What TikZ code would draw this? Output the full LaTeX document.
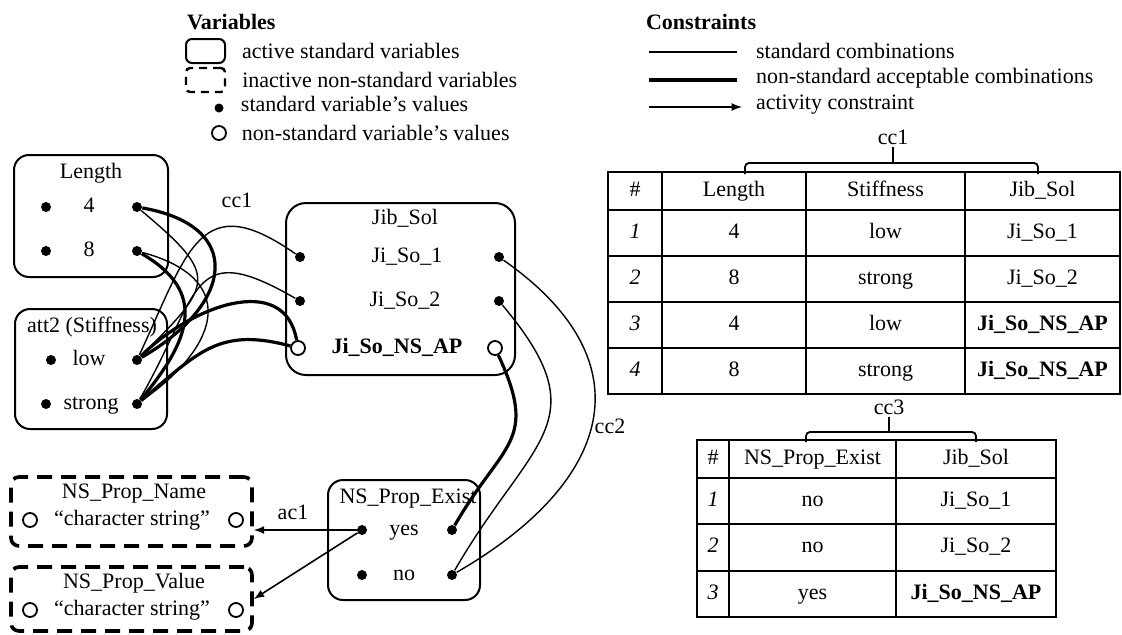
\documentclass[tikz,border=0pt]{standalone}
\usepackage{fontspec}
\setmainfont{Liberation Serif}
\usepackage{tikz}
\usetikzlibrary{shapes,arrows,positioning}

\begin{document}
\begin{tikzpicture}[
    x=0.5pt, y=0.5pt,
    font=\fontsize{11}{13}\selectfont,
    node distance=4.5pt,
    varbox/.style={rectangle, draw, line width=1pt, rounded corners=7.5pt, inner sep=0pt},
    nsbox/.style={rectangle, draw, line width=1.8pt, dash pattern=on 7.5pt off 4.5pt, rounded corners=4pt, inner sep=0pt},
    sval/.style={circle, fill, inner sep=0pt, minimum size=5pt},
    nsval/.style={circle, draw, fill=white, line width=0.9pt, inner sep=0pt, minimum size=7pt},
    lbl/.style={text height=7.5pt, text depth=2.5pt},
    stdlink/.style={line width=0.7pt},
    nslink/.style={line width=1.6pt},
    actlink/.style={line width=0.8pt, -latex},
    tabline/.style={line width=0.9pt},
    legtitle/.style={font=\fontsize{11}{13}\selectfont\bfseries}
]
    \useasboundingbox (0,0) rectangle (1122,634);

    % legend: variables
    \node[legtitle, anchor=west] (varlg) at (180,612) {Variables};
    \node[varbox, rounded corners=3pt, minimum width=19.5pt, minimum height=12pt] (actlg) at (205.5,583) {};
    \node[right=4.5pt of actlg] (actlgT) {active standard variables};
    \node[nsbox, line width=1.2pt, dash pattern=on 4pt off 3pt, rounded corners=2pt, minimum width=19.5pt, minimum height=12pt] (inalg) at (205.5,554) {};
    \node[right=4.5pt of inalg] (inalgT) {inactive non-standard variables};
    \node[sval, minimum size=4.5pt] (svlg) at (219,526) {};
    \node[right=5pt of svlg, yshift=2pt] (svlgT) {standard variable's values};
    \node[nsval] (nvlg) at (219,501) {};
    \node[right=4pt of nvlg] (nvlgT) {non-standard variable's values};

    % legend: constraints
    \node[legtitle, anchor=west] (conlg) at (639,612) {Constraints};
    \coordinate (stdA) at (649,582);
    \coordinate (stdB) at (737,582);
    \draw[stdlink] (stdA) -- (stdB);
    \node[anchor=west] (stdT) at (749,583) {standard combinations};
    \coordinate (nsA) at (649,554);
    \coordinate (nsB) at (737,554);
    \draw[nslink, line width=2pt] (nsA) -- (nsB);
    \node[anchor=west] (nsT) at (749,556) {non-standard acceptable combinations};
    \coordinate (acA) at (649,527);
    \coordinate (acB) at (742,527);
    \draw[actlink] (acA) -- (acB);
    \node[anchor=west] (acT) at (749,529) {activity constraint};

    % table cc1
    \node[inner sep=1pt] (cc1t) at (893,497) {cc1};
    \draw[tabline, rounded corners=2pt] (745,460) |- (1038,471) -- (1038,460);
    \draw[tabline] (cc1t.south) -- (893,471);
    \draw[tabline] (608,240) rectangle (1120,462);
    \draw[tabline] (608,424) -- (1120,424);
    \draw[tabline] (608,378) -- (1120,378);
    \draw[tabline] (608,332) -- (1120,332);
    \draw[tabline] (608,286) -- (1120,286);
    \draw[tabline] (662,240) -- (662,462);
    \draw[tabline] (806,240) -- (806,462);
    \draw[tabline] (965,240) -- (965,462);
    \node[lbl] (aH0) at (635,443) {\#};
    \node[lbl] (aH1) at (734,443) {Length};
    \node[lbl] (aH2) at (885.5,443) {Stiffness};
    \node[lbl] (aH3) at (1042.5,443) {Jib\_Sol};
    \node[lbl] (a10) at (635,401) {\textit{1}};
    \node[lbl] (a11) at (734,401) {4};
    \node[lbl] (a12) at (885.5,401) {low};
    \node[lbl] (a13) at (1042.5,401) {Ji\_So\_1};
    \node[lbl] (a20) at (635,355) {\textit{2}};
    \node[lbl] (a21) at (734,355) {8};
    \node[lbl] (a22) at (885.5,355) {strong};
    \node[lbl] (a23) at (1042.5,355) {Ji\_So\_2};
    \node[lbl] (a30) at (635,309) {\textit{3}};
    \node[lbl] (a31) at (734,309) {4};
    \node[lbl] (a32) at (885.5,309) {low};
    \node[lbl] (a33) at (1042.5,309) {\textbf{Ji\_So\_NS\_AP}};
    \node[lbl] (a40) at (635,263) {\textit{4}};
    \node[lbl] (a41) at (734,263) {8};
    \node[lbl] (a42) at (885.5,263) {strong};
    \node[lbl] (a43) at (1042.5,263) {\textbf{Ji\_So\_NS\_AP}};

    % table cc3
    \node[inner sep=1pt] (cc3t) at (889,227) {cc3};
    \draw[tabline, rounded corners=2pt] (806,192) |- (976,202) -- (976,192);
    \draw[tabline] (cc3t.south) -- (889,202);
    \draw[tabline] (697,17) rectangle (1056,194);
    \draw[tabline] (697,156) -- (1056,156);
    \draw[tabline] (697,110) -- (1056,110);
    \draw[tabline] (697,63) -- (1056,63);
    \draw[tabline] (729,17) -- (729,194);
    \draw[tabline] (896,17) -- (896,194);
    \node[lbl] (bH0) at (713,175) {\#};
    \node[lbl] (bH1) at (812.5,175) {NS\_Prop\_Exist};
    \node[lbl] (bH2) at (976,175) {Jib\_Sol};
    \node[lbl] (b10) at (713,133) {\textit{1}};
    \node[lbl] (b11) at (812.5,133) {no};
    \node[lbl] (b12) at (976,133) {Ji\_So\_1};
    \node[lbl] (b20) at (713,86.5) {\textit{2}};
    \node[lbl] (b21) at (812.5,86.5) {no};
    \node[lbl] (b22) at (976,86.5) {Ji\_So\_2};
    \node[lbl] (b30) at (713,40) {\textit{3}};
    \node[lbl] (b31) at (812.5,40) {yes};
    \node[lbl] (b32) at (976,40) {\textbf{Ji\_So\_NS\_AP}};

    % variables
    \node[varbox, minimum width=77pt, minimum height=61pt] (len) at (91,418) {};
    \node[lbl] (lenT) at (91,461) {Length};
    \node[sval] (len4a) at (46,427) {};
    \node[lbl] (len4) at (89,427) {4};
    \node[sval] (len4b) at (137,427) {};
    \node[sval] (len8a) at (46,383) {};
    \node[lbl] (len8) at (89,383) {8};
    \node[sval] (len8b) at (137,383) {};

    \node[varbox, minimum width=76pt, minimum height=60pt] (stf) at (91,265) {};
    \node[lbl] (stfT) at (92,307) {att2 (Stiffness)};
    \node[sval] (lowa) at (51,274) {};
    \node[lbl] (low) at (89,274) {low};
    \node[sval] (lowb) at (137,274) {};
    \node[sval] (stra) at (46,230) {};
    \node[lbl] (str) at (91,230) {strong};
    \node[sval] (strb) at (137,230) {};

    \node[varbox, rounded corners=10pt, minimum width=114.5pt, minimum height=86pt] (jib) at (400.5,345) {};
    \node[lbl] (jibT) at (405,415) {Jib\_Sol};
    \node[sval] (js1a) at (300,377) {};
    \node[lbl] (js1) at (407,377) {Ji\_So\_1};
    \node[sval] (js1b) at (499,377) {};
    \node[sval] (js2a) at (300,333) {};
    \node[lbl] (js2) at (405,333) {Ji\_So\_2};
    \node[sval] (js2b) at (499,333) {};
    \node[nsval] (jsna) at (298,286) {};
    \node[lbl] (jsn) at (397,286) {\textbf{Ji\_So\_NS\_AP}};
    \node[nsval] (jsnb) at (495,286) {};

    \node[varbox, minimum width=76pt, minimum height=60pt] (nse) at (404,94) {};
    \node[lbl] (nseT) at (408,136) {NS\_Prop\_Exist};
    \node[sval] (yesa) at (362,104) {};
    \node[lbl] (yes) at (404,104) {yes};
    \node[sval] (yesb) at (452,104) {};
    \node[sval] (noa) at (362,59) {};
    \node[lbl] (no) at (404,59) {no};
    \node[sval] (nob) at (452,59) {};

    \node[nsbox, minimum width=120.5pt, minimum height=34.5pt] (nsn) at (131.5,122.5) {};
    \node[lbl] (nsnT) at (134,141) {NS\_Prop\_Name};
    \node[nsval] (nsna) at (30,114) {};
    \node[lbl] (nsnv) at (132,114) {``character string''};
    \node[nsval] (nsnb) at (236,114) {};

    \node[nsbox, minimum width=120.5pt, minimum height=32pt] (nsv) at (131.5,35) {};
    \node[lbl] (nsvT) at (134,51) {NS\_Prop\_Value};
    \node[nsval] (nsva) at (30,24) {};
    \node[lbl] (nsvv) at (132,24) {``character string''};
    \node[nsval] (nsvb) at (236,24) {};

    % cc1
    \node (cc1l) at (237,434) {cc1};
    \draw[nslink] (len4b) to[out=-10, in=30, looseness=1.8] (lowb);
    \draw[stdlink] (len4b) to[out=-40, in=45, looseness=1.8] (lowb);
    \draw[nslink] (len8b) to[out=-30, in=50, looseness=1.35] (strb);
    \draw[stdlink] (len8b) to[out=-15, in=35, looseness=1.7] (strb);
    \draw[stdlink] (lowb) to[out=65, in=145, looseness=1.6] (js1a);
    \draw[nslink] (lowb) to[out=45, in=100, looseness=1.15] (jsna);
    \draw[stdlink] (strb) to[out=60, in=150, looseness=1.7] (js2a);
    \draw[nslink] (strb) to[out=40, in=165, looseness=1.2] (jsna);

    % cc2
    \node (cc2l) at (610,208) {cc2};
    \draw[stdlink] (js1b) to[out=-35, in=30, looseness=1.45] (nob);
    \draw[stdlink] (js2b) to[out=-50, in=60, looseness=1.45] (nob);
    \draw[nslink] (jsnb) to[out=-65, in=60, looseness=1.4] (yesb);

    % ac1
    \node (ac1l) at (293,122) {ac1};
    \draw[actlink] (yesa) -- (yesa -| nsn.east);
    \draw[actlink] (yesa) -- (nsv.east);
\end{tikzpicture}
\end{document}
